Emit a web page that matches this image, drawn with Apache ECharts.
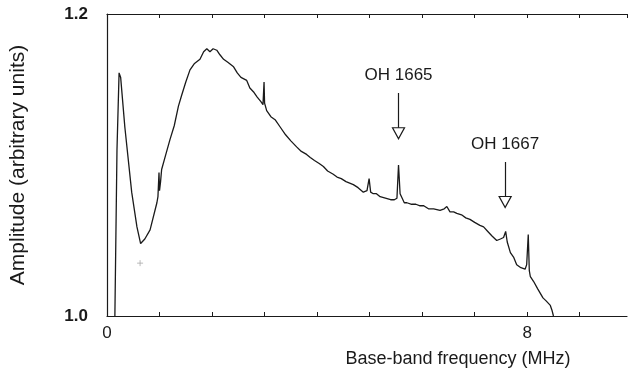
<!DOCTYPE html>
<html>
<head>
<meta charset="utf-8">
<script src="https://cdn.jsdelivr.net/npm/echarts@6/dist/echarts.min.js"></script>
<style>
  html, body { margin: 0; padding: 0; background: #fff; }
  #chart { width: 628px; height: 374px; }
</style>
</head>
<body>
<div id="chart"></div>
<script>
  // spectrum (MHz, arbitrary units)
  const freqMHz = [
    0.15, 0.19, 0.23, 0.26, 0.34, 0.47, 0.57, 0.64, 0.72, 0.82, 0.95, 0.97, 0.99, 1.00, 1.02, 1.04,
    1.12, 1.20, 1.28, 1.36, 1.42, 1.50, 1.58, 1.66, 1.77, 1.84, 1.90, 1.96, 2.02, 2.09, 2.15, 2.22,
    2.30, 2.41, 2.48, 2.55, 2.66, 2.72, 2.80, 2.86, 2.93, 2.97, 2.99, 3.00, 3.04, 3.12, 3.20, 3.30,
    3.40, 3.50, 3.61, 3.70, 3.80, 3.87, 3.95, 4.04, 4.12, 4.20, 4.30, 4.38, 4.46, 4.55, 4.62, 4.69,
    4.78, 4.88, 4.95, 4.99, 5.02, 5.07, 5.13, 5.20, 5.30, 5.40, 5.47, 5.52, 5.55, 5.58, 5.61, 5.66,
    5.71, 5.80, 5.88, 5.96, 6.03, 6.12, 6.22, 6.34, 6.42, 6.47, 6.53, 6.60, 6.66, 6.75, 6.83, 6.91,
    7.00, 7.10, 7.17, 7.25, 7.33, 7.42, 7.49, 7.55, 7.59, 7.62, 7.68, 7.74, 7.80, 7.88, 7.96, 7.99,
    8.02, 8.04, 8.06, 8.12, 8.20, 8.25, 8.30, 8.36, 8.44, 8.47, 8.50
  ]
  const amplitude = [
    1.000, 1.110, 1.161, 1.158, 1.125, 1.082, 1.059, 1.048, 1.051, 1.057, 1.075, 1.079, 1.095, 1.083, 1.089, 1.097,
    1.107, 1.117, 1.126, 1.139, 1.146, 1.155, 1.163, 1.167, 1.170, 1.175, 1.177, 1.175, 1.177, 1.176, 1.173, 1.170,
    1.168, 1.165, 1.161, 1.158, 1.156, 1.151, 1.148, 1.145, 1.142, 1.140, 1.155, 1.141, 1.136, 1.132, 1.130, 1.125,
    1.120, 1.116, 1.112, 1.109, 1.107, 1.105, 1.103, 1.101, 1.099, 1.096, 1.094, 1.092, 1.091, 1.089, 1.088, 1.087,
    1.085, 1.082, 1.083, 1.091, 1.082, 1.081, 1.081, 1.079, 1.078, 1.077, 1.077, 1.078, 1.100, 1.081, 1.081, 1.075,
    1.075, 1.074, 1.074, 1.073, 1.073, 1.071, 1.071, 1.070, 1.071, 1.0725, 1.069, 1.069, 1.068, 1.067, 1.065, 1.064,
    1.062, 1.060, 1.059, 1.056, 1.053, 1.050, 1.051, 1.052, 1.056, 1.049, 1.042, 1.039, 1.034, 1.032, 1.031, 1.034,
    1.054, 1.030, 1.026, 1.023, 1.018, 1.015, 1.012, 1.010, 1.007, 1.004, 1.000
  ]

  // stray "+" mark near the dip
  const crossMark = [[0.63, 1.035]]

  // line annotations: label, frequency, label height, arrow shaft top/bottom, triangle centre
  const lineNames = ['OH 1665', 'OH 1667']
  const lineFreq = [5.55, 7.58]
  const labelAmp = [1.1596, 1.1139]
  const shaftTop = [1.1477, 1.1020]
  const shaftBottom = [1.1245, 1.0788]
  const headAmp = [1.1210, 1.0755]

  const xTickLabels = { 0: '0', 8: '8' }
  const yTickLabels = { '1.0': '1.0', '1.2': '1.2' }

  const ink = '#1a1a1a'
  const font = 'Liberation Sans, Arial, Helvetica, sans-serif'

  const myChart = echarts.init(document.getElementById('chart'))

  const series = [
    {
      type: 'line',
      data: freqMHz.map((f, i) => [f, amplitude[i]]),
      showSymbol: false,
      symbol: 'none',
      lineStyle: { color: ink, width: 1.3 },
      animation: false,
      markLine: {
        silent: true,
        symbol: ['none', 'none'],
        label: { show: false },
        lineStyle: { color: ink, width: 1.2, type: 'solid' },
        data: lineFreq.map((f, i) => [
          { coord: [f, shaftTop[i]] },
          { coord: [f, shaftBottom[i]] }
        ])
      },
      markPoint: {
        silent: true,
        data: lineFreq.map((f, i) => ({
          coord: [f, headAmp[i]],
          symbol: 'path://M0,0 L12,0 L6,11 Z',
          symbolSize: [12, 11],
          itemStyle: { color: '#fff', borderColor: ink, borderWidth: 1.2 },
          label: { show: false }
        })).concat(lineFreq.map((f, i) => ({
          coord: [f, labelAmp[i]],
          symbol: 'circle',
          symbolSize: 1,
          itemStyle: { color: 'rgba(0,0,0,0)' },
          label: {
            show: true,
            position: 'inside',
            formatter: lineNames[i],
            color: ink,
            fontSize: 17,
            fontFamily: font
          }
        })))
      }
    },
    {
      type: 'scatter',
      data: crossMark,
      symbol: 'path://M5,0 L5,10 M0,5 L10,5',
      symbolSize: 6,
      itemStyle: { color: 'none', borderColor: '#aaa', borderWidth: 1 },
      silent: true,
      animation: false
    }
  ]

  const xAxisBase = {
    type: 'value',
    min: 0,
    max: 9.9,
    interval: 1,
    splitLine: { show: false },
    axisLine: { show: true, onZero: false, lineStyle: { color: ink, width: 1.2 } },
    axisTick: { show: true, inside: true, length: 4, lineStyle: { color: ink } }
  }

  myChart.setOption({
    backgroundColor: '#fff',
    animation: false,
    grid: { left: 107, top: 14, width: 520, bottom: 58 },
    xAxis: [
      {
        ...xAxisBase,
        position: 'bottom',
        axisLabel: {
          color: ink,
          fontSize: 17,
          fontFamily: font,
          margin: 9,
          showMaxLabel: false,
          formatter: v => xTickLabels[v] || ''
        }
      },
      {
        ...xAxisBase,
        position: 'top',
        axisLabel: { show: false }
      }
    ],
    yAxis: {
      type: 'value',
      min: 1.0,
      max: 1.2,
      interval: 0.2,
      splitLine: { show: false },
      axisLine: { show: true, lineStyle: { color: ink, width: 1.2 } },
      axisTick: { show: false },
      axisLabel: {
        color: ink,
        fontSize: 17,
        fontWeight: 'bold',
        fontFamily: font,
        margin: 19,
        formatter: v => yTickLabels[v.toFixed(1)] || ''
      },
      name: 'Amplitude (arbitrary units)',
      nameLocation: 'middle',
      nameGap: 78,
      nameTextStyle: { color: ink, fontSize: 21, fontFamily: font }
    },
    graphic: [
      {
        type: 'text',
        x: 458,
        y: 359,
        style: {
          text: 'Base-band frequency (MHz)',
          textAlign: 'center',
          textVerticalAlign: 'middle',
          fill: ink,
          fontSize: 18,
          fontFamily: font
        }
      }
    ],
    series
  })
</script>
</body>
</html>
